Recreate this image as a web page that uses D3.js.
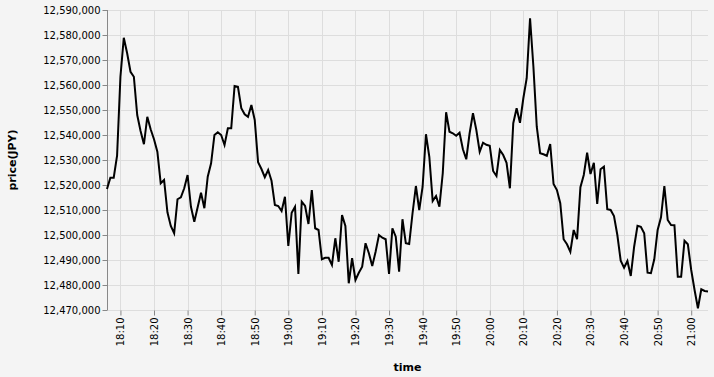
<!DOCTYPE html>
<html>
<head>
<meta charset="utf-8">
<script src="https://cdn.jsdelivr.net/npm/d3@7"></script>
<style>
  html, body { margin: 0; padding: 0; background: #f4f4f4; }
  svg { display: block; font-family: "DejaVu Sans", sans-serif; }
</style>
</head>
<body>
<svg id="chart" width="714" height="377"></svg>
<script>
// ---- data ----
const startTime = "18:06";          // first sample, one sample per minute
const endTime = "21:05";
const prices = [
  12518400, 12522900, 12522900, 12531700, 12563300, 12578900, 12572700, 12565300, 12563300, 12548000,
  12541600, 12536300, 12547300, 12542300, 12538300, 12533300, 12520700, 12522000, 12509100, 12503600,
  12500700, 12514300, 12515100, 12518700, 12524000, 12511300, 12505300, 12511100, 12516900, 12510700,
  12523300, 12528700, 12540000, 12541100, 12540000, 12536000, 12542700, 12542700, 12559600, 12559300,
  12550700, 12548300, 12547300, 12552000, 12546000, 12529100, 12526400, 12523100, 12526000, 12521700,
  12512000, 12511600, 12509600, 12515300, 12495600, 12508900, 12511300, 12484400, 12513300, 12511600,
  12504400, 12518000, 12502700, 12502000, 12490300, 12490900, 12490900, 12488000, 12498700, 12489300,
  12508000, 12503600, 12480700, 12490700, 12482000, 12484900, 12487300, 12496700, 12492700, 12487600,
  12493300, 12500000, 12498900, 12498300, 12484400, 12502700, 12499300, 12485300, 12506300, 12496700,
  12496400, 12508700, 12519600, 12510000, 12519300, 12540300, 12531300, 12513600, 12515600, 12511300,
  12524700, 12549100, 12541300, 12540700, 12539700, 12540900, 12534300, 12530300, 12540700, 12548700,
  12542000, 12533300, 12536900, 12536100, 12535700, 12525600, 12523600, 12534000, 12532000, 12528900,
  12518700, 12544700, 12550700, 12544900, 12554700, 12562700, 12586700, 12567300, 12543300, 12532700,
  12532300, 12531700, 12536400, 12520400, 12518000, 12512700, 12498300, 12496300, 12493300, 12502000,
  12498300, 12519100, 12524000, 12532900, 12524400, 12528900, 12512400, 12526300, 12527300, 12510300,
  12510000, 12507600, 12500000, 12489700, 12486900, 12489600, 12483600, 12495300, 12503700, 12503300,
  12500700, 12484900, 12484700, 12490300, 12502000, 12507100, 12519600, 12506000, 12504000, 12503900,
  12483300, 12483300, 12497700, 12496300, 12486000, 12478000, 12470700, 12478300, 12477600, 12477400
];
const xTickLabels = ["18:10","18:20","18:30","18:40","18:50","19:00","19:10","19:20","19:30",
  "19:40","19:50","20:00","20:10","20:20","20:30","20:40","20:50","21:00"];
const yTicks = [12470000, 12480000, 12490000, 12500000, 12510000, 12520000, 12530000,
  12540000, 12550000, 12560000, 12570000, 12580000, 12590000];
const xTitle = "time";
const yTitle = "price(JPY)";

// ---- build ----
const parse = d3.timeParse("%Y-%m-%d %H:%M");
const day = "2021-01-01 ";
const t0 = parse(day + startTime);
const times = d3.timeMinute.range(t0, d3.timeMinute.offset(t0, prices.length));
const data = prices.map((p, i) => ({ t: times[i], p }));
const xTickDates = xTickLabels.map(s => parse(day + s));

const margin = { left: 107, top: 10, width: 601, height: 300 };
const svg = d3.select("#chart");
svg.append("rect").attr("width", 714).attr("height", 377).attr("fill", "#f4f4f4");

const x = d3.scaleTime()
  .domain([t0, parse(day + endTime)])
  .range([margin.left, margin.left + margin.width]);
const y = d3.scaleLinear()
  .domain([yTicks[0], yTicks[yTicks.length - 1]])
  .range([margin.top + margin.height, margin.top]);

// grid
const grid = svg.append("g");
grid.selectAll("line.h").data(yTicks).join("line")
  .attr("x1", margin.left).attr("x2", margin.left + margin.width)
  .attr("y1", d => Math.round(y(d)) + 0.5).attr("y2", d => Math.round(y(d)) + 0.5)
  .attr("stroke", "#ddd").attr("stroke-width", 1);
grid.selectAll("line.v").data(xTickDates).join("line")
  .attr("x1", d => Math.round(x(d)) + 0.5).attr("x2", d => Math.round(x(d)) + 0.5)
  .attr("y1", margin.top).attr("y2", margin.top + margin.height)
  .attr("stroke", "#ddd").attr("stroke-width", 1);

// axes
const yAxis = svg.append("g")
  .attr("transform", `translate(${margin.left + 0.5},0)`)
  .call(d3.axisLeft(y).tickValues(yTicks).tickFormat(d3.format(",")).tickSize(5).tickPadding(2));
yAxis.select(".domain").attr("stroke", "#888").attr("d", `M0,${margin.top}V${margin.top + margin.height}`);
yAxis.selectAll(".tick line").attr("stroke", "#888");
yAxis.selectAll(".tick text").attr("font-size", 10).attr("fill", "#000")
  .attr("font-family", "DejaVu Sans, sans-serif");

const xAxis = svg.append("g")
  .attr("transform", `translate(0,${margin.top + margin.height + 0.5})`)
  .call(d3.axisBottom(x).tickValues(xTickDates).tickFormat(d3.timeFormat("%H:%M")).tickSize(5).tickPadding(2));
xAxis.select(".domain").remove();
xAxis.selectAll(".tick line").attr("stroke", "#888");
xAxis.selectAll(".tick text")
  .attr("font-size", 10).attr("fill", "#000")
  .attr("font-family", "DejaVu Sans, sans-serif")
  .attr("transform", "rotate(-90)")
  .attr("text-anchor", "end")
  .attr("x", -7).attr("y", 0).attr("dy", "0.35em");

// line
svg.append("path")
  .datum(data)
  .attr("fill", "none")
  .attr("stroke", "#000")
  .attr("stroke-width", 2)
  .attr("stroke-linejoin", "miter")
  .attr("d", d3.line().x(d => x(d.t)).y(d => y(d.p)));

// titles
svg.append("text")
  .attr("x", margin.left + margin.width / 2).attr("y", 371)
  .attr("text-anchor", "middle").attr("font-size", 11).attr("font-weight", "bold")
  .attr("fill", "#000").text(xTitle);
svg.append("text")
  .attr("transform", `translate(16,${margin.top + margin.height / 2}) rotate(-90)`)
  .attr("text-anchor", "middle").attr("font-size", 11).attr("font-weight", "bold")
  .attr("fill", "#000").text(yTitle);
</script>
</body>
</html>
